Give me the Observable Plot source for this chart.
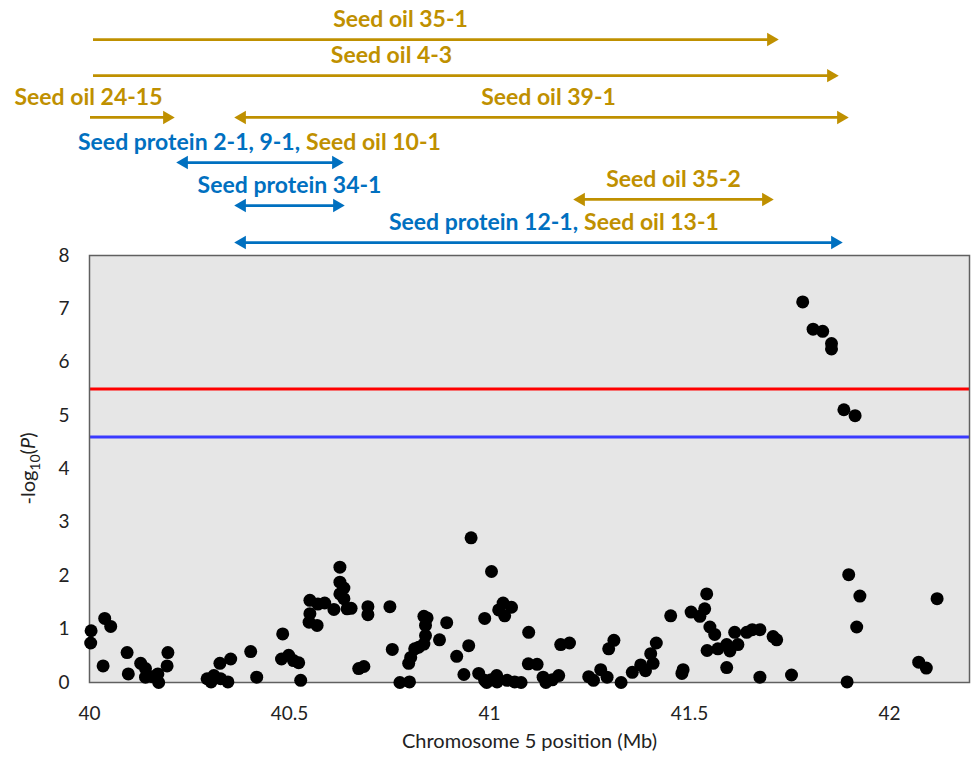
<!DOCTYPE html>
<html><head><meta charset="utf-8">
<script src="https://cdn.jsdelivr.net/npm/d3@7"></script>
<script src="https://cdn.jsdelivr.net/npm/@observablehq/plot@0.6"></script>
<style>
body{margin:0;background:#fff;}
#chart{width:973px;height:758px;position:relative;}
#chart svg{display:block;}
</style></head><body><div id="chart"></div>
<script>
// SNP positions (Mb) on chromosome 5 and -log10(P)
const positionMb = [40.004,40.003,40.038,40.053,40.034,40.094,40.097,40.128,40.140,40.140,40.157,40.171,40.173,40.196,40.194,
40.294,40.304,40.311,40.328,40.346,40.326,40.353,40.403,40.418,40.483,40.480,40.498,40.510,40.523,40.528,
40.551,40.551,40.549,40.569,40.571,40.588,40.611,40.626,40.626,40.636,40.626,40.636,40.644,40.654,40.696,40.696,40.673,40.686,
40.751,40.757,40.776,40.800,40.798,40.803,40.813,40.836,40.844,40.840,40.840,40.836,40.823,40.875,40.893,40.918,40.936,40.948,40.954,
40.988,40.973,40.988,40.993,41.004,41.018,41.019,41.005,41.023,41.034,41.038,41.055,41.044,41.063,41.079,41.098,41.097,41.119,
41.134,41.141,41.157,41.173,41.178,41.200,41.248,41.260,41.278,41.294,41.298,41.311,41.329,41.357,41.378,41.390,41.403,41.409,41.417,
41.453,41.484,41.481,41.504,41.526,41.538,41.543,41.551,41.563,41.544,41.571,41.593,41.601,41.621,41.593,41.613,41.643,41.657,41.676,41.676,
41.709,41.718,41.755,41.783,41.809,41.833,41.855,41.855,41.886,41.914,41.898,41.926,41.918,41.894,42.073,42.092,42.119];
const logP = [0.97,0.74,1.20,1.05,0.31,0.56,0.16,0.36,0.26,0.10,0.11,0.16,0.00,0.56,0.31,
0.07,0.01,0.13,0.07,0.01,0.36,0.44,0.58,0.10,0.91,0.44,0.51,0.41,0.37,0.04,
1.54,1.29,1.13,1.07,1.47,1.49,1.37,2.16,1.88,1.77,1.66,1.57,1.38,1.39,1.42,1.27,0.26,0.30,
1.42,0.62,0.00,0.01,0.36,0.47,0.63,1.24,1.21,1.07,0.88,0.72,0.66,0.80,1.12,0.49,0.15,0.69,2.71,
1.20,0.17,0.04,0.00,0.05,0.13,0.01,2.08,1.36,1.49,1.25,1.41,0.04,0.01,0.00,0.94,0.35,0.34,
0.10,0.00,0.05,0.13,0.71,0.74,0.11,0.04,0.24,0.10,0.63,0.79,0.00,0.19,0.33,0.22,0.54,0.36,0.74,
1.25,0.24,0.17,1.32,1.24,1.38,1.66,1.04,0.90,0.60,0.63,0.71,0.59,0.71,0.28,0.94,0.94,0.99,0.99,0.10,
0.86,0.80,0.14,7.13,6.62,6.58,6.35,6.25,5.11,5.00,2.02,1.62,1.04,0.01,0.38,0.27,1.57];
const thresholds = [5.5, 4.6];
const xTicks = [40, 40.5, 41, 41.5, 42];
const yTicks = [0, 1, 2, 3, 4, 5, 6, 7, 8];
const xTitle = "Chromosome 5 position (Mb)";

// QTL interval annotations
const qtlStart = [40.01, 40.01, 40.0025, 40.3625, 40.2175, 40.3625, 41.21, 40.3625];
const qtlEnd   = [41.7225, 41.8725, 40.2125, 41.8975, 40.635, 40.6375, 41.71, 41.8825];
const qtlLane  = [0, 0.89, 1.92, 1.92, 3.03, 4.09, 3.94, 5];
const qtlHeads = ["end", "end", "end", "both", "both", "both", "both", "both"];
const qtlTrait = ["oil", "oil", "oil", "oil", "protein", "protein", "oil", "protein"];

const labelText   = ["Seed oil 35-1", "Seed oil 4-3", "Seed oil 24-15", "Seed oil 39-1", "Seed protein 2-1, 9-1,", "Seed oil 10-1", "Seed protein 34-1", "Seed oil 35-2", "Seed protein 12-1,", "Seed oil 13-1"];
const labelX      = [40.7775, 40.755, 39.9975, 41.1475, 40.534, 40.534, 40.5, 41.46, 41.229, 41.229];
const labelLane   = [0, 0.89, 1.92, 1.92, 3.03, 3.03, 4.09, 3.94, 5, 5];
const labelTrait  = ["oil", "oil", "oil", "oil", "protein", "oil", "protein", "oil", "protein", "oil"];
const labelAnchor = ["middle", "middle", "middle", "middle", "end", "start", "middle", "middle", "end", "start"];

const snps = positionMb.map((x, i) => ({x, y: logP[i]}));
const qtls = qtlStart.map((s, i) => ({start: s, end: qtlEnd[i], lane: qtlLane[i], heads: qtlHeads[i], trait: qtlTrait[i]}));
const labels = labelText.map((t, i) => ({text: t, x: labelX[i], lane: labelLane[i], trait: labelTrait[i], anchor: labelAnchor[i]}));
const endHeads = qtls.map(d => ({x: d.end, lane: d.lane, trait: d.trait}));
const startHeads = qtls.filter(d => d.heads === "both").map(d => ({x: d.start, lane: d.lane, trait: d.trait}));

const FONT = "Lato, 'Open Sans', sans-serif";
const colorScale = {domain: ["oil", "protein"], range: ["#BF9000", "#0070C0"]};
const xScale = {domain: [40, 42.2]};
const LABEL_SIZE = 23;

const topPlot = Plot.plot({
  width: 973, height: 245, marginLeft: 89, marginRight: 4, marginTop: 0, marginBottom: 0,
  x: {...xScale, axis: null},
  y: {domain: [0, 5], range: [39, 242], axis: null},
  color: colorScale,
  style: {fontFamily: FONT, background: "transparent", overflow: "visible"},
  marks: [
    Plot.ruleY(qtls.filter(d => d.heads === "end"), {y: "lane", x1: "start", x2: "end", stroke: "trait", strokeWidth: 2.75, insetRight: 8}),
    Plot.ruleY(qtls.filter(d => d.heads === "both"), {y: "lane", x1: "start", x2: "end", stroke: "trait", strokeWidth: 2.75, insetRight: 8, insetLeft: 8}),
    Plot.dot(endHeads, {x: "x", y: "lane", fill: "trait", symbol: "triangle", r: 5, rotate: 90, dx: -7.5}),
    Plot.dot(startHeads, {x: "x", y: "lane", fill: "trait", symbol: "triangle", r: 5, rotate: -90, dx: 7.5}),
    Plot.text(labels.filter(d => d.anchor === "middle"), {x: "x", y: "lane", text: "text", fill: "trait", dy: -20, fontSize: LABEL_SIZE, fontWeight: "bold", textAnchor: "middle"}),
    Plot.text(labels.filter(d => d.anchor === "end"), {x: "x", y: "lane", text: "text", fill: "trait", dy: -20, dx: -3, fontSize: LABEL_SIZE, fontWeight: "bold", textAnchor: "end"}),
    Plot.text(labels.filter(d => d.anchor === "start"), {x: "x", y: "lane", text: "text", fill: "trait", dy: -20, dx: 3, fontSize: LABEL_SIZE, fontWeight: "bold", textAnchor: "start"})
  ]
});

const mainPlot = Plot.plot({
  width: 973, height: 513, marginLeft: 89, marginRight: 4, marginTop: 10, marginBottom: 76,
  x: xScale,
  y: {domain: [0, 8]},
  style: {fontFamily: FONT, fontSize: "19px", color: "#222", background: "transparent", overflow: "visible"},
  marks: [
    Plot.frame({fill: "#e6e6e6"}),
    Plot.ruleY([thresholds[0]], {stroke: "#ff0000", strokeWidth: 3}),
    Plot.ruleY([thresholds[1]], {stroke: "#3a3aff", strokeWidth: 3}),
    Plot.frame({stroke: "#606060", strokeWidth: 1.5}),
    Plot.dot(snps, {x: "x", y: "y", r: 6.5, fill: "#000"}),
    Plot.axisX({ticks: xTicks, tickFormat: d => `${d}`, tickSize: 0, tickPadding: 24, label: null}),
    Plot.axisY({ticks: yTicks, tickFormat: d => `${d}`, tickSize: 0, tickPadding: 20, label: null}),
    Plot.text([xTitle], {text: d => d, frameAnchor: "bottom", dy: 65, fontSize: 20, fill: "#222"})
  ]
});

// y-axis title with subscript and italic P
const svg = d3.select(mainPlot);
const yt = svg.append("text")
  .attr("transform", "translate(35,223.5) rotate(-90)")
  .attr("text-anchor", "middle")
  .attr("font-size", 20)
  .attr("fill", "#222")
  .attr("font-family", FONT);
yt.append("tspan").text("-log");
yt.append("tspan").attr("font-size", 14).attr("dy", 5).text("10");
yt.append("tspan").attr("dy", -5).text("(");
yt.append("tspan").attr("font-style", "italic").text("P");
yt.append("tspan").text(")");

const chart = document.getElementById("chart");
chart.appendChild(topPlot);
chart.appendChild(mainPlot);
</script>
</body></html>
